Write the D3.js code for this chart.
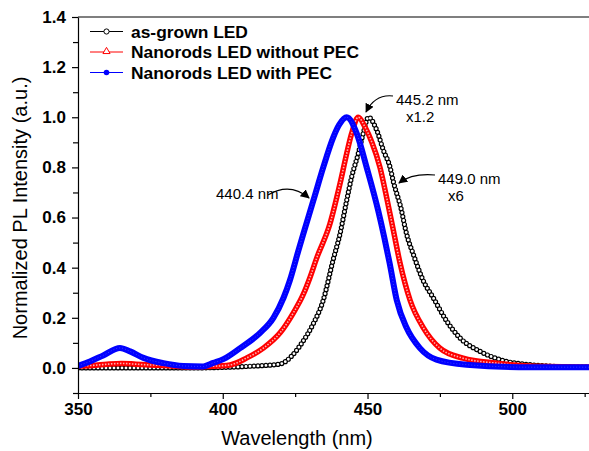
<!DOCTYPE html>
<html>
<head>
<meta charset="utf-8">
<script src="https://cdn.jsdelivr.net/npm/d3@7"></script>
<style>
  body { margin: 0; background: #fff; }
  text { font-family: Arial, "Liberation Sans", sans-serif; }
</style>
</head>
<body>
<div id="chart"></div>
<script>
// Chart data
var asGrownNm = [350, 360, 370, 380, 390, 400, 405, 410, 415, 420, 424, 427.7, 431.2, 434.7, 438.1, 440.5, 442.8, 444.5, 446.8, 448.5, 450.3, 453.2, 455.5, 457.8, 459, 461.5, 463.5, 465.8, 469.3, 472.7, 477.4, 482, 488.9, 498, 506, 515, 526.5];
var asGrownVal = [0, 0, 0, 0, 0, 0.002, 0.004, 0.007, 0.01, 0.016, 0.05, 0.106, 0.175, 0.27, 0.43, 0.535, 0.668, 0.761, 0.855, 0.935, 1.0, 0.948, 0.868, 0.80, 0.74, 0.64, 0.534, 0.454, 0.347, 0.28, 0.186, 0.119, 0.066, 0.026, 0.013, 0.006, 0.003];

var noPecNm = [350, 355, 360, 365, 370, 375, 380, 385, 390, 395, 402.5, 408.3, 414, 419.8, 424.4, 427.8, 430.1, 432.5, 437, 440.5, 442.8, 444.5, 446.8, 449.1, 451.5, 454.3, 456.6, 458.9, 461.2, 464.7, 469.3, 475, 483, 494.6, 506, 526.5];
var noPecVal = [0.008, 0.01, 0.015, 0.018, 0.015, 0.012, 0.01, 0.006, 0.004, 0.006, 0.012, 0.04, 0.079, 0.14, 0.22, 0.293, 0.36, 0.44, 0.574, 0.735, 0.855, 0.935, 1.0, 0.962, 0.9, 0.8, 0.68, 0.55, 0.42, 0.27, 0.16, 0.079, 0.039, 0.019, 0.008, 0.004];

var withPecNm = [350, 354.1, 358.7, 364.5, 368, 372.6, 379.5, 386.4, 393.3, 396.7, 400.2, 406, 412.9, 417.5, 421, 423.2, 426.1, 427.8, 431.3, 434.7, 438.2, 440.2, 442.8, 446.3, 449.7, 453.7, 455.8, 457.6, 460.1, 463.5, 468.1, 473.8, 484.2, 506, 526.5];
var withPecVal = [0.008, 0.026, 0.05, 0.08, 0.066, 0.04, 0.019, 0.008, 0.006, 0.02, 0.035, 0.079, 0.14, 0.2, 0.28, 0.35, 0.467, 0.534, 0.668, 0.80, 0.921, 0.97, 1.0, 0.935, 0.80, 0.627, 0.52, 0.42, 0.27, 0.16, 0.079, 0.033, 0.013, 0.003, 0.003];

var seriesNames = ["as-grown LED", "Nanorods LED without PEC", "Nanorods LED with PEC"];
var xTicks = [350, 400, 450, 500];
var xMinorTicks = [375, 425, 475, 525];
var yTicks = [0.0, 0.2, 0.4, 0.6, 0.8, 1.0, 1.2, 1.4];
var yMinorTicks = [-0.1, 0.1, 0.3, 0.5, 0.7, 0.9, 1.1, 1.3];

var width = 589;
var height = 451;
var margin = { left: 78, top: 17, right: 0, bottom: 58 };

var svg = d3.select("#chart").append("svg")
    .attr("width", width)
    .attr("height", height);

var x = d3.scaleLinear().domain([350, 526.5]).range([margin.left, width]);
var y = d3.scaleLinear().domain([-0.1, 1.4]).range([height - margin.bottom, margin.top]);

svg.append("defs").append("clipPath").attr("id", "plotclip")
  .append("rect")
    .attr("x", margin.left).attr("y", margin.top)
    .attr("width", width - margin.left).attr("height", height - margin.bottom - margin.top);

svg.select("defs").append("marker")
    .attr("id", "arrow")
    .attr("viewBox", "0 0 10 10")
    .attr("refX", 9).attr("refY", 5)
    .attr("markerWidth", 9).attr("markerHeight", 9)
    .attr("markerUnits", "userSpaceOnUse")
    .attr("orient", "auto")
  .append("path")
    .attr("d", "M0,0 L10,5 L0,10 z")
    .attr("fill", "#000");

var line = d3.line()
    .x(function (d) { return x(d[0]); })
    .y(function (d) { return y(d[1]); })
    .curve(d3.curveMonotoneX);

var plot = svg.append("g").attr("clip-path", "url(#plotclip)");

// as-grown LED: hollow circles
var blackData = d3.zip(asGrownNm, asGrownVal);
plot.append("path").attr("d", line(blackData))
    .attr("fill", "none").attr("stroke", "#000").attr("stroke-width", 1);
plot.append("path").attr("d", line(blackData))
    .attr("fill", "none").attr("stroke", "#000").attr("stroke-width", 5.2)
    .attr("stroke-linecap", "round").attr("stroke-dasharray", "0 4");
plot.append("path").attr("d", line(blackData))
    .attr("fill", "none").attr("stroke", "#fff").attr("stroke-width", 2.8)
    .attr("stroke-linecap", "round").attr("stroke-dasharray", "0 4");

// nanorods without PEC: hollow triangles
var redData = d3.zip(noPecNm, noPecVal);
plot.append("path").attr("d", line(redData))
    .attr("fill", "none").attr("stroke", "#ff0000").attr("stroke-width", 5.5);
plot.append("path").attr("d", line(redData))
    .attr("fill", "none").attr("stroke", "#ffb0b0").attr("stroke-width", 1.6)
    .attr("stroke-dasharray", "1.5 1.5");

// nanorods with PEC: filled circles
var blueData = d3.zip(withPecNm, withPecVal);
plot.append("path").attr("d", line(blueData))
    .attr("fill", "none").attr("stroke", "#0000ff").attr("stroke-width", 6)
    .attr("stroke-linejoin", "round");
plot.append("path").attr("d", line(blueData))
    .attr("fill", "none").attr("stroke", "#3a3aff").attr("stroke-width", 1)
    .attr("stroke-dasharray", "1 2");

// axes
var xAxis = svg.append("g")
    .attr("transform", "translate(0," + (height - margin.bottom) + ")")
    .call(d3.axisBottom(x).tickValues(xTicks).tickSize(6).tickSizeOuter(0).tickPadding(4).tickFormat(d3.format("d")));
var xMinor = svg.append("g")
    .attr("transform", "translate(0," + (height - margin.bottom) + ")")
    .call(d3.axisBottom(x).tickValues(xMinorTicks).tickSize(4).tickSizeOuter(0).tickFormat(""));
var yAxis = svg.append("g")
    .attr("transform", "translate(" + margin.left + ",0)")
    .call(d3.axisLeft(y).tickValues(yTicks).tickSize(6).tickSizeOuter(0).tickPadding(6).tickFormat(d3.format(".1f")));
var yMinor = svg.append("g")
    .attr("transform", "translate(" + margin.left + ",0)")
    .call(d3.axisLeft(y).tickValues(yMinorTicks).tickSize(5).tickSizeOuter(0).tickFormat(""));

svg.selectAll(".domain, .tick line").attr("stroke", "#000").attr("stroke-width", 1.2);
xMinor.select(".domain").remove();
yMinor.select(".domain").remove();
svg.selectAll(".tick text")
    .attr("font-family", "Arial, 'Liberation Sans', sans-serif")
    .attr("font-size", 17).attr("font-weight", "bold").attr("fill", "#000");

// top frame line
svg.append("line")
    .attr("x1", margin.left).attr("x2", width)
    .attr("y1", y(1.4)).attr("y2", y(1.4))
    .attr("stroke", "#000").attr("stroke-width", 1.2);

// axis titles
svg.append("text")
    .attr("x", 297).attr("y", 445)
    .attr("text-anchor", "middle").attr("font-size", 20)
    .text("Wavelength (nm)");
svg.append("text")
    .attr("transform", "translate(27,208) rotate(-90)")
    .attr("text-anchor", "middle").attr("font-size", 20)
    .text("Normalized PL Intensity (a.u.)");

// legend
var legendY = [31.5, 52, 72.5];
var legend = svg.append("g");
legendY.forEach(function (ly, i) {
  var col = ["#000", "#ff0000", "#0000ff"][i];
  legend.append("line")
      .attr("x1", 90).attr("x2", 123).attr("y1", ly).attr("y2", ly)
      .attr("stroke", col).attr("stroke-width", 1);
  if (i === 0) {
    legend.append("circle").attr("cx", 106.5).attr("cy", ly).attr("r", 2.6)
        .attr("fill", "#fff").attr("stroke", col).attr("stroke-width", 1);
  } else if (i === 1) {
    legend.append("path").attr("d", d3.symbol(d3.symbolTriangle, 22)())
        .attr("transform", "translate(106.5," + (ly - 0.5) + ")")
        .attr("fill", "#fff").attr("stroke", col).attr("stroke-width", 1);
  } else {
    legend.append("circle").attr("cx", 106.5).attr("cy", ly).attr("r", 2.8)
        .attr("fill", col);
  }
  legend.append("text")
      .attr("x", 131).attr("y", ly).attr("dy", "0.35em")
      .attr("font-size", 17.4).attr("font-weight", "bold")
      .text(seriesNames[i]);
});

// annotations
function note(lines, ty) {
  lines.forEach(function (t, i) {
    svg.append("text")
        .attr("x", t[1]).attr("y", ty + i * 17).attr("dy", "0.35em")
        .attr("font-size", 15).text(t[0]);
  });
}
note([["445.2 nm", 396], ["x1.2", 406]], 100);
note([["449.0 nm", 438], ["x6", 448]], 179);
note([["440.4 nm", 216]], 194);

svg.append("path").attr("d", "M393,96 Q375,94 366,112")
    .attr("fill", "none").attr("stroke", "#000").attr("stroke-width", 1.1)
    .attr("marker-end", "url(#arrow)");
svg.append("path").attr("d", "M435,175 Q412,173 399,183")
    .attr("fill", "none").attr("stroke", "#000").attr("stroke-width", 1.1)
    .attr("marker-end", "url(#arrow)");
svg.append("path").attr("d", "M268,195 Q290,182 309,198")
    .attr("fill", "none").attr("stroke", "#000").attr("stroke-width", 1.1)
    .attr("marker-end", "url(#arrow)");
</script>
</body>
</html>
